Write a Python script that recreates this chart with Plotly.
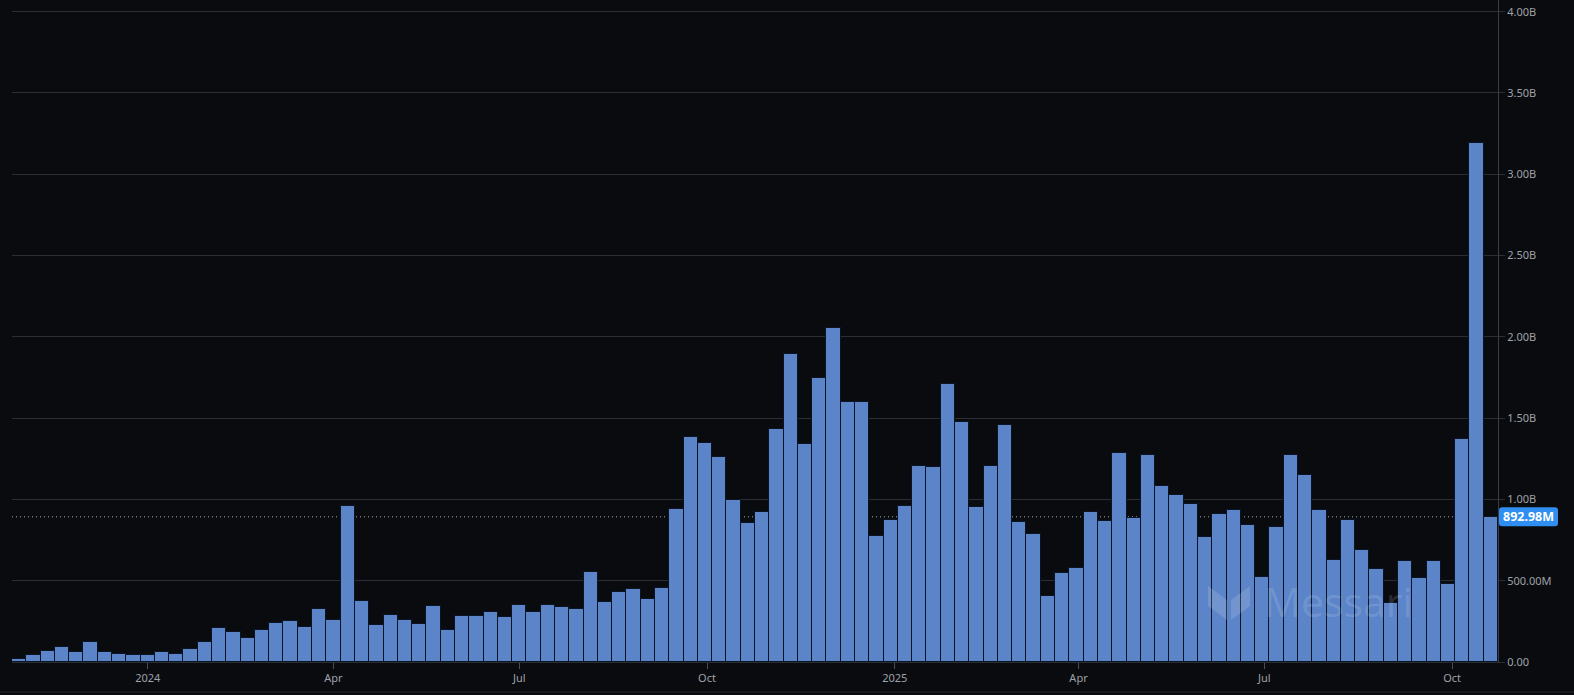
import pandas as pd
import plotly.graph_objects as go

# ---- data (weekly volume, billions) ----
start_week = "2023-10-30"
weekly_volume_b = [
    0.020, 0.043, 0.070, 0.092, 0.064, 0.123, 0.064, 0.051, 0.045, 0.045,
    0.060, 0.047, 0.082, 0.125, 0.207, 0.185, 0.148, 0.195, 0.240, 0.250,
    0.215, 0.323, 0.260, 0.957, 0.373, 0.226, 0.289, 0.256, 0.236, 0.347,
    0.199, 0.285, 0.281, 0.310, 0.277, 0.353, 0.310, 0.349, 0.338, 0.326,
    0.554, 0.369, 0.431, 0.451, 0.390, 0.455, 0.942, 1.383, 1.346, 1.260,
    0.999, 0.855, 0.921, 1.436, 1.897, 1.344, 1.744, 2.057, 1.598, 1.602,
    0.777, 0.872, 0.958, 1.208, 1.200, 1.711, 1.475, 0.956, 1.206, 1.460,
    0.862, 0.790, 0.404, 0.550, 0.578, 0.923, 0.870, 1.288, 0.888, 1.274,
    1.083, 1.028, 0.972, 0.768, 0.913, 0.933, 0.843, 0.525, 0.833, 1.276,
    1.149, 0.937, 0.628, 0.876, 0.689, 0.574, 0.365, 0.623, 0.517, 0.623,
    0.482, 1.373, 3.190, 0.89298,
]
last_label = "892.98M"
x_tick_dates = ["2024-01-01", "2024-04-01", "2024-07-01", "2024-10-01",
                "2025-01-01", "2025-04-01", "2025-07-01", "2025-10-01"]
x_tick_text = ["2024", "Apr", "Jul", "Oct", "2025", "Apr", "Jul", "Oct"]
y_tick_vals = [0, 0.5, 1.0, 1.5, 2.0, 2.5, 3.0, 3.5, 4.0]
y_tick_text = ["0.00", "500.00M", "1.00B", "1.50B", "2.00B", "2.50B", "3.00B", "3.50B", "4.00B"]

weeks = pd.date_range(start_week, periods=len(weekly_volume_b), freq="7D")

BG = "#0a0b0e"
GRID = "#2b2e35"
TXT = "#9ea2aa"
BAR = "#5b84c9"
LABEL_BG = "#2f8ef0"
Y_MAX = 4.072

W, H = 1574, 695
ML, MR, MT, MB = 12, 76, 0, 33
PW, PH = W - ML - MR, H - MT - MB


def px(xp):
    return (xp - ML) / PW


def py(yp):
    return (H - MB - yp) / PH


# pixel row of the last value (for the price-tag box)
last_y_px = H - MB - weekly_volume_b[-1] / Y_MAX * PH
bx0, bx1 = 1499, 1558
by0, by1 = last_y_px - 9.5, last_y_px + 9.5
r = 3
tag_path = (
    f"M {px(bx0 + r)},{py(by0)} L {px(bx1 - r)},{py(by0)} "
    f"Q {px(bx1)},{py(by0)} {px(bx1)},{py(by0 + r)} "
    f"L {px(bx1)},{py(by1 - r)} Q {px(bx1)},{py(by1)} {px(bx1 - r)},{py(by1)} "
    f"L {px(bx0 + r)},{py(by1)} Q {px(bx0)},{py(by1)} {px(bx0)},{py(by1 - r)} "
    f"L {px(bx0)},{py(by0 + r)} Q {px(bx0)},{py(by0)} {px(bx0 + r)},{py(by0)} Z"
)

fig = go.Figure()
fig.add_trace(go.Bar(
    x=weeks, y=weekly_volume_b,
    marker=dict(color=BAR, line=dict(color="#0b1424", width=1)),
    hoverinfo="skip",
))

shapes = [
    dict(type="line", xref="paper", yref="y", x0=0, x1=1,
         y0=weekly_volume_b[-1], y1=weekly_volume_b[-1],
         line=dict(color="rgba(205,210,220,0.8)", width=1, dash="1px,3px"), layer="below"),
    dict(type="line", xref="paper", yref="paper", x0=px(0), x1=px(W),
         y0=py(692), y1=py(692), line=dict(color="#23262c", width=1)),
    # watermark logo (decorative)
    dict(type="path", xref="paper", yref="paper",
         path=(f"M {px(1208)},{py(586)} L {px(1227)},{py(600)} L {px(1227)},{py(620)} "
               f"L {px(1208)},{py(606)} Z"),
         fillcolor="rgba(255,255,255,0.14)", line=dict(width=0)),
    dict(type="path", xref="paper", yref="paper",
         path=(f"M {px(1250)},{py(586)} L {px(1231)},{py(600)} L {px(1231)},{py(620)} "
               f"L {px(1250)},{py(606)} Z"),
         fillcolor="rgba(255,255,255,0.14)", line=dict(width=0)),
    # price tag box
    dict(type="path", xref="paper", yref="paper", path=tag_path,
         fillcolor=LABEL_BG, line=dict(width=0)),
]

annotations = [
    dict(text="Messari", xref="paper", yref="paper", x=px(1262), y=py(601),
         xanchor="left", yanchor="middle", showarrow=False,
         font=dict(family="Open Sans, sans-serif", size=41, color="rgba(255,255,255,0.14)")),
    dict(text=f"<b>{last_label}</b>", xref="paper", yref="paper",
         x=px((bx0 + bx1) / 2), y=py(last_y_px),
         xanchor="center", yanchor="middle", showarrow=False,
         font=dict(family="Noto Sans, sans-serif", size=12.5, color="#ffffff")),
]

fig.update_layout(
    width=W, height=H,
    margin=dict(l=ML, r=MR, t=MT, b=MB, pad=0),
    paper_bgcolor=BG, plot_bgcolor=BG,
    bargap=0, showlegend=False,
    font=dict(family="Noto Sans, sans-serif", size=11, color=TXT),
    shapes=shapes, annotations=annotations,
    xaxis=dict(
        type="date",
        range=["2023-10-26 12:00", "2025-10-23 12:00"],
        tickvals=x_tick_dates, ticktext=x_tick_text,
        showgrid=False, zeroline=False,
        showline=True, linecolor="#2b2e35", linewidth=1,
        ticks="outside", ticklen=6, tickcolor="#4a4e56",
        tickfont=dict(size=11, color=TXT),
        fixedrange=True,
    ),
    yaxis=dict(
        side="right", range=[0, Y_MAX],
        tickvals=y_tick_vals, ticktext=y_tick_text,
        showgrid=True, gridcolor=GRID, gridwidth=1, zeroline=False,
        showline=True, linecolor="#3a3d44", linewidth=1, mirror=False,
        ticks="outside", ticklen=6, tickcolor=GRID,
        tickfont=dict(size=11, color=TXT),
        fixedrange=True,
    ),
)

fig.write_html(
    "out.html",
    config={"displayModeBar": False},
    post_script="document.body.style.margin='0';document.body.style.overflow='hidden';",
)
